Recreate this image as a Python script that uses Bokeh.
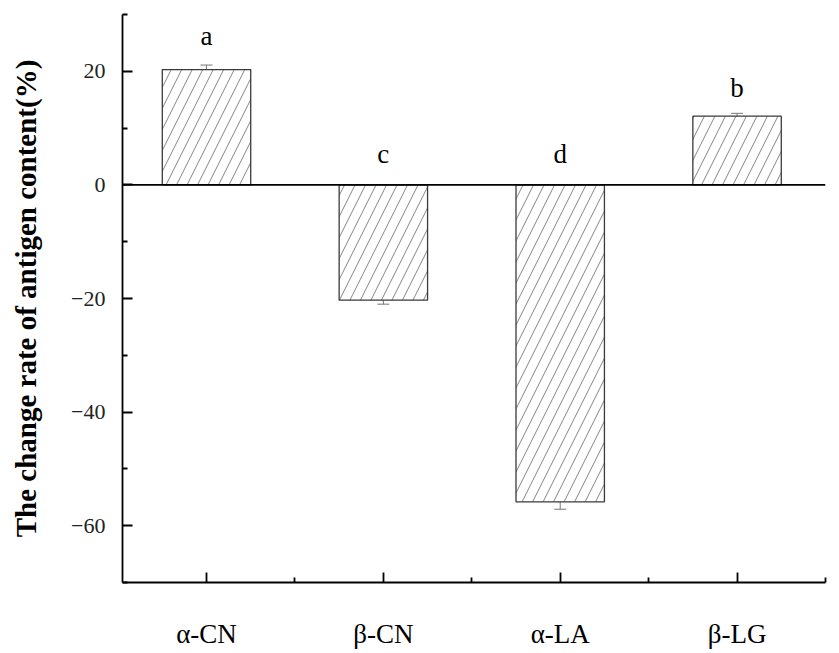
from bokeh.plotting import figure
from bokeh.models import Range1d, FixedTicker, Span, Whisker, ColumnDataSource, TeeHead
from bokeh.core.properties import value
from bokeh.embed import file_html
from bokeh.resources import INLINE

categories = ["α-CN", "β-CN", "α-LA", "β-LG"]
change_rate = [20.3, -20.3, -55.8, 12.1]
errors = [0.8, 0.7, 1.3, 0.5]
letters = ["a", "c", "d", "b"]
letter_y = [26.3, 5.5, 5.5, 17.0]
y_ticks = [-60, -40, -20, 0, 20]
y_minor = [-70, -50, -30, -10, 10, 30]

xs = [i + 1 for i in range(len(categories))]
src = ColumnDataSource(dict(
    x=xs, top=change_rate,
    upper=[v + e for v, e in zip(change_rate, errors)],
    lower=[v - e for v, e in zip(change_rate, errors)],
))

SERIF = "Liberation Serif"

p = figure(width=833, height=653, output_backend="svg", toolbar_location=None,
           x_range=Range1d(0.525, 4.5), y_range=Range1d(-70, 30),
           min_border_left=122, min_border_right=8, min_border_top=14, min_border_bottom=71)
p.outline_line_color = None
p.grid.visible = False
p.background_fill_color = "white"

p.vbar(x="x", top="top", bottom=0, width=0.5, source=src,
       fill_color="white", line_color="#3a3a3a", line_width=1.3,
       hatch_pattern="/", hatch_color="#666666", hatch_scale=21, hatch_weight=0.8)

p.add_layout(Span(location=0, dimension="width", line_color="black", line_width=1.6))

w = Whisker(base="x", upper="upper", lower="lower", source=src,
            line_color="#777777", line_width=1,
            upper_head=TeeHead(size=12, line_color="#777777", line_width=1),
            lower_head=TeeHead(size=12, line_color="#777777", line_width=1))
p.add_layout(w)

p.text(x=xs, y=letter_y, text=letters, text_align="center", text_baseline="alphabetic",
       text_font=value(SERIF), text_font_size="27px", text_color="black")

# x axis
xa = p.xaxis[0]
xa.ticker = FixedTicker(ticks=xs, minor_ticks=[x + 0.5 for x in xs])
xa.major_label_overrides = {x: c for x, c in zip(xs, categories)}
xa.major_label_text_font = SERIF
xa.major_label_text_font_size = "27px"
xa.major_label_text_color = "black"
xa.major_label_standoff = 36
xa.axis_line_width = 1.8
xa.axis_line_color = "black"
xa.major_tick_in = 10
xa.major_tick_out = 0
xa.minor_tick_in = 5
xa.minor_tick_out = 0
xa.major_tick_line_width = 1.8
xa.minor_tick_line_width = 1.8

# y axis
ya = p.yaxis[0]
ya.ticker = FixedTicker(ticks=y_ticks, minor_ticks=y_minor)
ya.major_label_overrides = {t: (str(t).replace("-", "\u2212")) for t in y_ticks}
ya.major_label_text_font = SERIF
ya.major_label_text_font_size = "22px"
ya.major_label_text_color = "#222222"
ya.major_label_standoff = 17
ya.axis_line_width = 1.8
ya.axis_line_color = "black"
ya.major_tick_in = 10
ya.major_tick_out = 0
ya.minor_tick_in = 5
ya.minor_tick_out = 0
ya.major_tick_line_width = 1.8
ya.minor_tick_line_width = 1.8
ya.axis_label = "The change rate of antigen content(%)"
ya.axis_label_text_font = SERIF
ya.axis_label_text_font_style = "bold"
ya.axis_label_text_font_size = "29px"
ya.axis_label_text_color = "black"
ya.axis_label_standoff = 26

open("out.html", "w").write(file_html(p, INLINE))
